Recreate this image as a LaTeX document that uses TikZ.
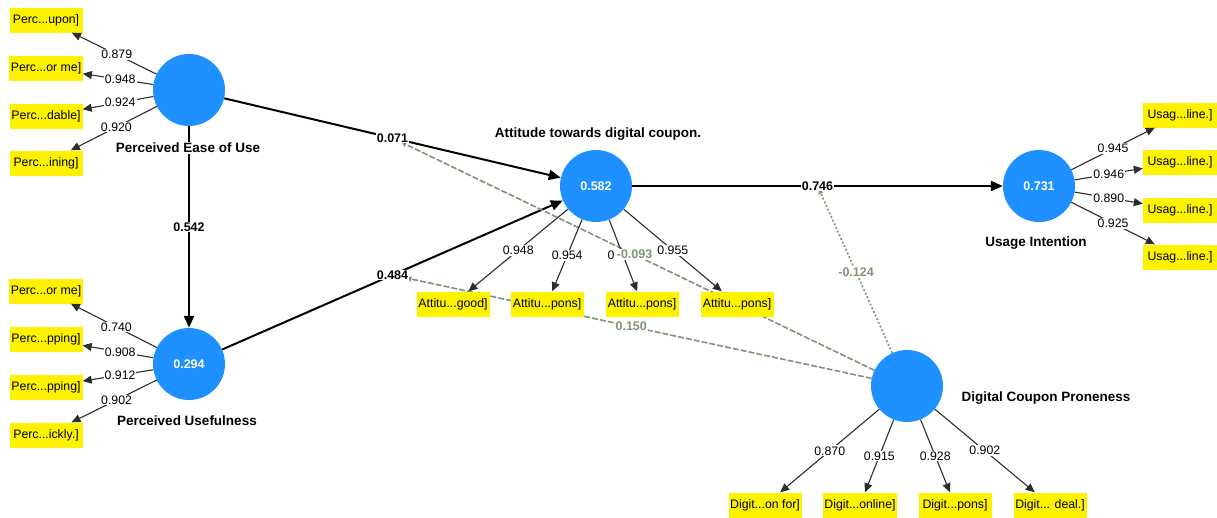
\documentclass[tikz,border=0pt]{standalone}
\usepackage{fontspec}
\setmainfont{Liberation Sans}
\usetikzlibrary{arrows.meta}
\definecolor{lvblue}{RGB}{30,144,255}
\definecolor{modc}{RGB}{128,148,118}
\definecolor{ldc}{RGB}{45,45,45}
\pgfdeclarelayer{back}
\pgfdeclarelayer{bg}
\pgfsetlayers{back,bg,main}
\begin{document}
\begin{tikzpicture}[x=1pt,y=-1pt,
 lv/.style={circle, fill=lvblue, minimum size=72pt, inner sep=0pt, text=white, font=\fontsize{12.5}{14}\selectfont\bfseries},
 ind/.style={fill=yellow, inner xsep=1.5pt, inner ysep=0pt, minimum height=25pt, minimum width=73pt, font=\fontsize{12.3}{14}\selectfont},
 lvname/.style={font=\fontsize{13.5}{16}\selectfont\bfseries, fill=white, inner sep=1pt},
 coef/.style={font=\fontsize{12.5}{14}\selectfont\bfseries, fill=white, inner sep=1pt},
 load/.style={font=\fontsize{12.3}{14}\selectfont, fill=white, inner sep=1pt},
 modlab/.style={font=\fontsize{12.5}{14}\selectfont\bfseries, text=modc, fill=white, inner sep=1pt},
 struct/.style={draw=black, line width=2pt, -{Triangle[length=12pt,width=10pt]}},
 loadline/.style={draw=ldc, line width=1.1pt, -{Triangle[length=9pt,width=8pt]}},
 modline/.style={draw=modc, line width=1.6pt, dash pattern=on 6pt off 2pt, shorten >=-3pt, -{Triangle[length=5pt,width=5pt]}},
]
\begin{pgfonlayer}{back}
\fill[white] (0,0) rectangle (1217,517);
\end{pgfonlayer}
\useasboundingbox (0,0) rectangle (1217,517);

% latent variables
\node[lv] (peou) at (189,90) {};
\node[lv] (pu) at (189,364) {0.294};
\node[lv] (att) at (596,186) {0.582};
\node[lv] (ui) at (1039,186) {0.731};
\node[lv] (dcp) at (907,386) {};

% names
\node[lvname] (npeou) at (188,148) {Perceived Ease of Use};
\node[lvname] (npu) at (187,421) {Perceived Usefulness};
\node[lvname] (natt) at (598,134) {Attitude towards digital coupon.};
\node[lvname] (nui) at (1036,243) {Usage Intention};
\node[lvname] (ndcp) at (1046,398) {Digital Coupon Proneness};

% indicators
\node[ind] (p1) at (46,20) {Perc...upon]};
\node[ind] (p2) at (46,68) {Perc...or me]};
\node[ind] (p3) at (46,116) {Perc...dable]};
\node[ind] (p4) at (46,163) {Perc...ining]};
\node[ind] (u1) at (46,291) {Perc...or me]};
\node[ind] (u2) at (46,339) {Perc...pping]};
\node[ind] (u3) at (46,387) {Perc...pping]};
\node[ind] (u4) at (46,435) {Perc...ickly.]};
\node[ind] (a1) at (453,304) {Attitu...good]};
\node[ind] (a2) at (547,304) {Attitu...pons]};
\node[ind] (a3) at (642,304) {Attitu...pons]};
\node[ind] (a4) at (737,304) {Attitu...pons]};
\node[ind, minimum width=74pt] (i1) at (1180,115) {Usag...line.]};
\node[ind, minimum width=74pt] (i2) at (1180,162) {Usag...line.]};
\node[ind, minimum width=74pt] (i3) at (1180,210) {Usag...line.]};
\node[ind, minimum width=74pt] (i4) at (1180,257) {Usag...line.]};
\node[ind] (d1) at (765,505) {Digit...on for]};
\node[ind] (d2) at (860,505) {Digit...online]};
\node[ind] (d3) at (955,505) {Digit...pons]};
\node[ind] (d4) at (1050,505) {Digit... deal.]};

% structural path coefficients
\path (peou) -- node[coef] (cpu) {0.542} (pu);
\path (peou) -- node[coef] (cpa) {0.071} (att);
\path (pu) -- node[coef] (cua) {0.484} (att);
\path (att) -- node[coef] (cau) {0.746} (ui);

\begin{pgfonlayer}{bg}
\draw[struct] (peou) -- (pu);
\draw[struct] (peou) -- (att);
\draw[struct] (pu) -- (att);
\draw[struct] (att) -- (ui);
\draw[modline] (dcp) -- coordinate[pos=.51] (m1) (cpa);
\draw[modline] (dcp) -- coordinate[pos=.52] (m2) (cua);
\draw[modline, dash pattern=on 2pt off 2pt] (dcp) -- coordinate[pos=.5] (m3) (cau);
\end{pgfonlayer}

% outer loadings
\draw[loadline] (peou) -- node[load,pos=.47] {0.879} (p1);
\draw[loadline] (peou) -- node[load,pos=.47] {0.948} (p2);
\draw[loadline] (peou) -- node[load,pos=.47] {0.924} (p3);
\draw[loadline] (peou) -- node[load,pos=.47] {0.920} (p4);
\draw[loadline] (pu) -- node[load,pos=.47] {0.740} (u1);
\draw[loadline] (pu) -- node[load,pos=.47] {0.908} (u2);
\draw[loadline] (pu) -- node[load,pos=.47] {0.912} (u3);
\draw[loadline] (pu) -- node[load,pos=.47] {0.902} (u4);
\draw[loadline] (att) -- node[load,pos=.5] {0.948} (a1);
\draw[loadline] (att) -- node[load,pos=.5] {0.954} (a2);
\draw[loadline] (att) -- node[load,pos=.5,xshift=-12pt] {0} (a3);
\draw[loadline] (att) -- node[load,pos=.5] {0.955} (a4);
\draw[loadline] (ui) -- node[load,pos=.5] {0.945} (i1);
\draw[loadline] (ui) -- node[load,pos=.5] {0.946} (i2);
\draw[loadline] (ui) -- node[load,pos=.5] {0.890} (i3);
\draw[loadline] (ui) -- node[load,pos=.5] {0.925} (i4);
\draw[loadline] (dcp) -- node[load,pos=.5] {0.870} (d1);
\draw[loadline] (dcp) -- node[load,pos=.5] {0.915} (d2);
\draw[loadline] (dcp) -- node[load,pos=.5] {0.928} (d3);
\draw[loadline] (dcp) -- node[load,pos=.5] {0.902} (d4);

% moderation labels
\node[modlab] (l1) at (m1) {-0.093};
\node[modlab] (l2) at (m2) {0.150};
\node[modlab] (l3) at (m3) {-0.124};
\end{tikzpicture}
\end{document}
